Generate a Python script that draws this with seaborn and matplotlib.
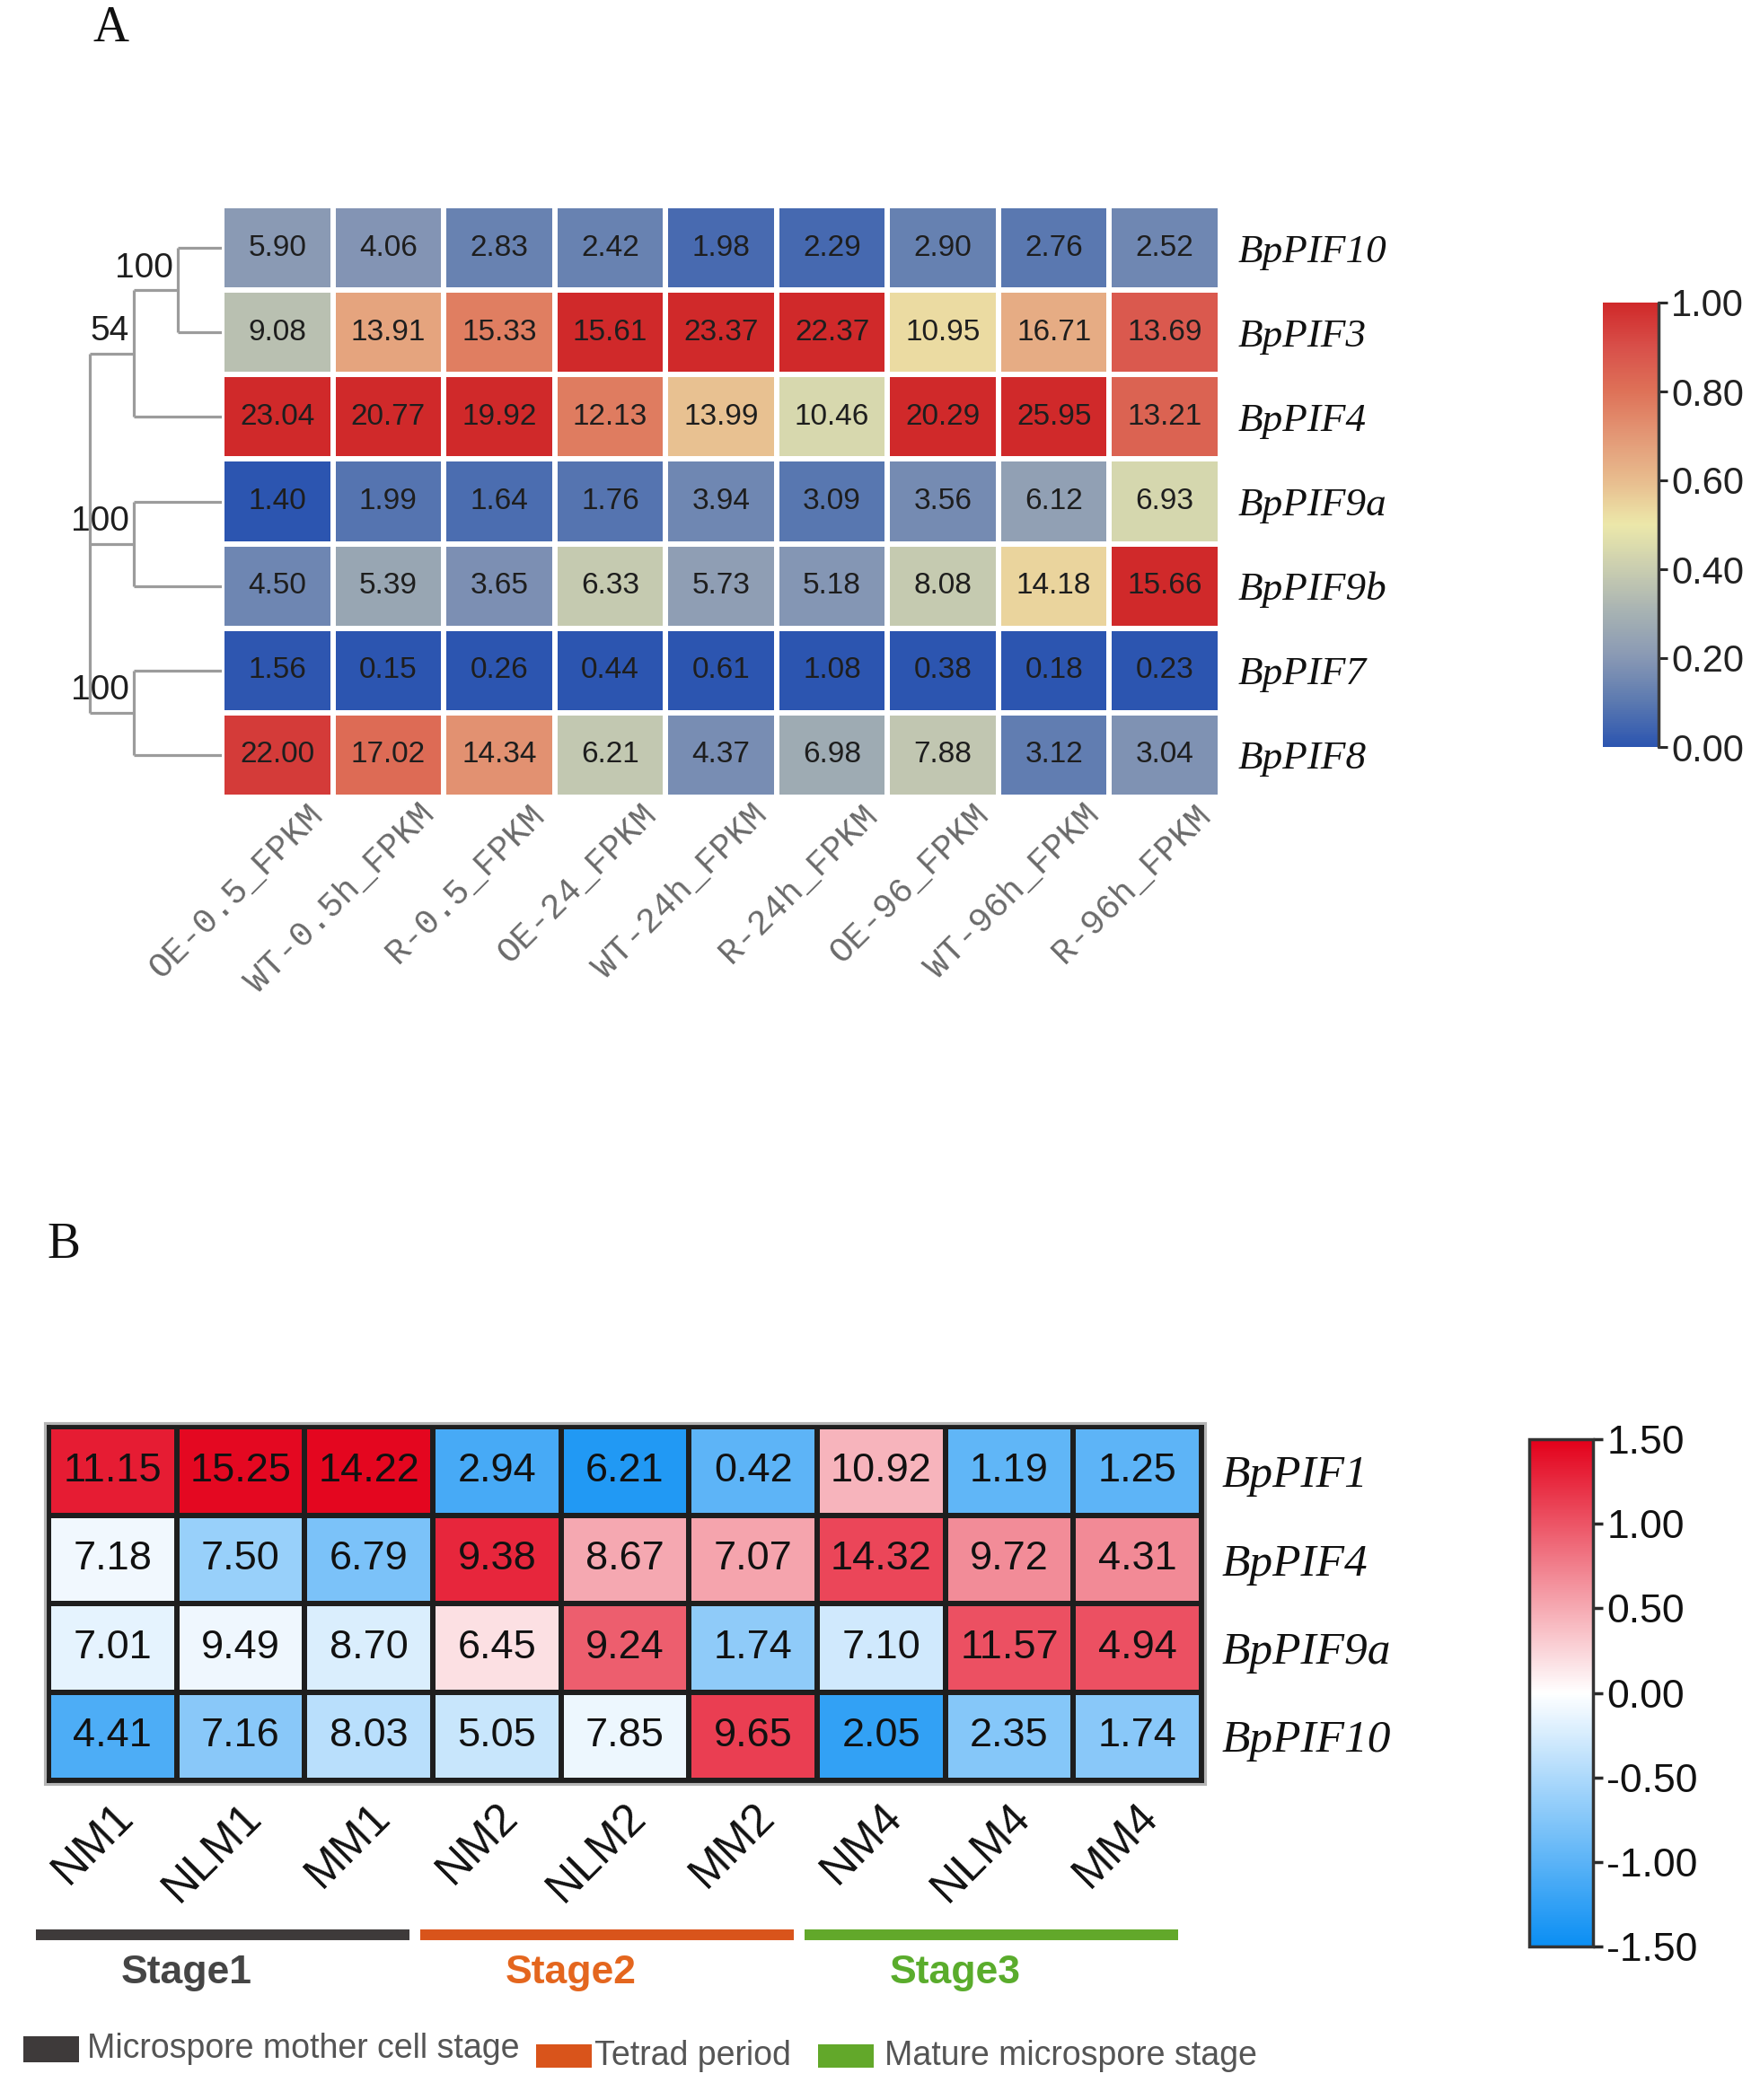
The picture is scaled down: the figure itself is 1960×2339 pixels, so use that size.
import numpy as np
import pandas as pd
import matplotlib
matplotlib.use("Agg")
import matplotlib.pyplot as plt
import matplotlib.transforms as mtransforms
from matplotlib.colors import LinearSegmentedColormap
from matplotlib.patches import Rectangle
import seaborn as sns

# ---------------- Panel A data ----------------
genes_a = ["BpPIF10", "BpPIF3", "BpPIF4", "BpPIF9a", "BpPIF9b", "BpPIF7", "BpPIF8"]
samples_a = ["OE-0.5_FPKM", "WT-0.5h_FPKM", "R-0.5_FPKM", "OE-24_FPKM", "WT-24h_FPKM",
             "R-24h_FPKM", "OE-96_FPKM", "WT-96h_FPKM", "R-96h_FPKM"]
fpkm_a_pif10 = [5.90, 4.06, 2.83, 2.42, 1.98, 2.29, 2.90, 2.76, 2.52]
fpkm_a_pif3 = [9.08, 13.91, 15.33, 15.61, 23.37, 22.37, 10.95, 16.71, 13.69]
fpkm_a_pif4 = [23.04, 20.77, 19.92, 12.13, 13.99, 10.46, 20.29, 25.95, 13.21]
fpkm_a_pif9a = [1.40, 1.99, 1.64, 1.76, 3.94, 3.09, 3.56, 6.12, 6.93]
fpkm_a_pif9b = [4.50, 5.39, 3.65, 6.33, 5.73, 5.18, 8.08, 14.18, 15.66]
fpkm_a_pif7 = [1.56, 0.15, 0.26, 0.44, 0.61, 1.08, 0.38, 0.18, 0.23]
fpkm_a_pif8 = [22.00, 17.02, 14.34, 6.21, 4.37, 6.98, 7.88, 3.12, 3.04]

# dendrogram (leaves 0..6 = rows; internal nodes numbered from 7)
tree_children = [[0, 1], [7, 2], [3, 4], [5, 6], [8, 9, 10]]
tree_levels = [1, 2, 2, 2, 3]
tree_support = ["100", "54", "100", "100", ""]

cbar_a_ticks = [0.0, 0.2, 0.4, 0.6, 0.8, 1.0]

# ---------------- Panel B data ----------------
genes_b = ["BpPIF1", "BpPIF4", "BpPIF9a", "BpPIF10"]
samples_b = ["NM1", "NLM1", "MM1", "NM2", "NLM2", "MM2", "NM4", "NLM4", "MM4"]
fpkm_b_pif1 = [11.15, 15.25, 14.22, 2.94, 6.21, 0.42, 10.92, 1.19, 1.25]
fpkm_b_pif4 = [7.18, 7.50, 6.79, 9.38, 8.67, 7.07, 14.32, 9.72, 4.31]
fpkm_b_pif9a = [7.01, 9.49, 8.70, 6.45, 9.24, 1.74, 7.10, 11.57, 4.94]
fpkm_b_pif10 = [4.41, 7.16, 8.03, 5.05, 7.85, 9.65, 2.05, 2.35, 1.74]
stage_names = ["Stage1", "Stage2", "Stage3"]
stage_sizes = [3, 3, 3]
stage_desc = ["Microspore mother cell stage", "Tetrad period", "Mature microspore stage"]
cbar_b_ticks = [-1.5, -1.0, -0.5, 0.0, 0.5, 1.0, 1.5]

# ---------------- styling ----------------
sns.set_theme(style="white")
plt.rcParams["font.family"] = ["Liberation Sans", "DejaVu Sans"]
plt.rcParams["axes.unicode_minus"] = False

W, H = 1960, 2339
fig = plt.figure(figsize=(W / 100, H / 100), dpi=100)


def fx(px):
    return px / W


def fy(py):
    return 1 - py / H


def box(x0, y0, x1, y1):
    return [fx(x0), fy(y1), fx(x1) - fx(x0), fy(y0) - fy(y1)]


cmap_a = LinearSegmentedColormap.from_list(
    "bpA",
    [(0.0, "#2c55b0"), (0.1, "#5b79b0"), (0.2, "#8898b4"), (0.3, "#a6b1b3"),
     (0.4, "#c9cdb0"), (0.5, "#ece8aa"), (0.6, "#e8bc8e"), (0.7, "#e39876"),
     (0.8, "#de7258"), (0.9, "#d8504a"), (1.0, "#d0292a")])
cmap_b = LinearSegmentedColormap.from_list("bpB", ["#0a8ef3", "#ffffff", "#e3001a"])

# ---------------- Panel A ----------------
fpkm_a = pd.DataFrame([fpkm_a_pif10, fpkm_a_pif3, fpkm_a_pif4, fpkm_a_pif9a,
                       fpkm_a_pif9b, fpkm_a_pif7, fpkm_a_pif8],
                      index=genes_a, columns=samples_a)
norm_a = (fpkm_a - fpkm_a.min()) / (fpkm_a.max() - fpkm_a.min())
annot_a = fpkm_a.map(lambda v: f"{v:.2f}")

ax_a = fig.add_axes(box(247, 229, 1359, 888))
cax_a = fig.add_axes(box(1785, 337, 1847, 832))
sns.heatmap(norm_a, ax=ax_a, cmap=cmap_a, vmin=0, vmax=1, annot=annot_a, fmt="",
            annot_kws={"fontsize": 24, "color": "#1e1e1e"},
            linewidths=3, linecolor="white", cbar_ax=cax_a,
            cbar_kws={"ticks": cbar_a_ticks})
ax_a.yaxis.tick_right()
ax_a.tick_params(axis="y", length=0, pad=14, labelright=True, labelleft=False)
ax_a.set_yticklabels(genes_a, rotation=0, fontsize=32.5, fontstyle="italic",
                     family="Liberation Serif", color="#111111", ha="left")
ax_a.tick_params(axis="x", length=0, pad=1)
ax_a.set_xticklabels(samples_a, rotation=45, ha="right", va="top", rotation_mode="anchor",
                     fontsize=28, family="Liberation Mono", color="#6a6a6a")
shift_a = mtransforms.ScaledTranslation(0.33, 0, fig.dpi_scale_trans)
for lab in ax_a.get_xticklabels():
    lab.set_transform(lab.get_transform() + shift_a)
ax_a.set_xlabel("")
ax_a.set_ylabel("")

cbar_a = ax_a.collections[0].colorbar
cbar_a.outline.set_visible(False)
cax_a.plot([1, 1], [0, 1], transform=cax_a.transAxes, color="#3a3a3a", lw=2.5,
           clip_on=False)
cax_a.set_yticks(cbar_a_ticks)
cax_a.set_yticklabels([f"{t:.2f}" for t in cbar_a_ticks])
cax_a.tick_params(axis="y", labelsize=30, length=7, width=2.2, color="#2a2a2a",
                  pad=3, labelcolor="#222222")

# dendrogram
ax_d = fig.add_axes(box(247 - 3.5 * 49, 229, 247, 888))
ax_d.set_xlim(3.5, 0)
ax_d.set_ylim(len(genes_a), 0)
ax_d.axis("off")
node_y = {i: i + 0.5 for i in range(len(genes_a))}
node_lvl = {i: 0 for i in range(len(genes_a))}
dcol = "#9c9c9c"
for k, (kids, lvl) in enumerate(zip(tree_children, tree_levels)):
    nid = len(genes_a) + k
    ys = [node_y[c] for c in kids]
    ax_d.plot([lvl, lvl], [min(ys), max(ys)], color=dcol, lw=2.3,
              solid_capstyle="butt")
    for c in kids:
        ax_d.plot([node_lvl[c], lvl], [node_y[c], node_y[c]], color=dcol, lw=2.3,
                  solid_capstyle="butt")
    node_y[nid] = (min(ys) + max(ys)) / 2
    node_lvl[nid] = lvl
# support values (drawn at the branch leading to each node)
for k, sup in enumerate(tree_support):
    if sup:
        nid = len(genes_a) + k
        ax_d.text(node_lvl[nid] + 0.1, node_y[nid] - 0.07, sup, ha="right", va="bottom",
                  fontsize=28, color="#1e1e1e")

fig.text(fx(124), fy(32), "A", family="Liberation Serif", fontsize=40,
         ha="center", va="center", color="#111111")

# ---------------- Panel B ----------------
fpkm_b = pd.DataFrame([fpkm_b_pif1, fpkm_b_pif4, fpkm_b_pif9a, fpkm_b_pif10],
                      index=genes_b, columns=samples_b)
z_b = (fpkm_b - fpkm_b.mean()) / fpkm_b.std(ddof=1)
annot_b = fpkm_b.map(lambda v: f"{v:.2f}")

ax_b = fig.add_axes(box(54, 1589, 1338, 1983))
cax_b = fig.add_axes(box(1703, 1603, 1774, 2168))
sns.heatmap(z_b, ax=ax_b, cmap=cmap_b, vmin=-1.5, vmax=1.5, annot=annot_b, fmt="",
            annot_kws={"fontsize": 32.5, "color": "#111111"},
            linewidths=3, linecolor="#1e1e1e", cbar_ax=cax_b,
            cbar_kws={"ticks": cbar_b_ticks})
for sp in ax_b.spines.values():
    sp.set_visible(True)
    sp.set_color("#1e1e1e")
    sp.set_linewidth(3.5)
ax_b.add_patch(Rectangle((0, 0), 1, 1, transform=ax_b.transAxes, fill=False,
                         ec="#b5b5b5", lw=8, clip_on=False, zorder=0.5))
ax_b.yaxis.tick_right()
ax_b.tick_params(axis="y", length=0, pad=16, labelright=True, labelleft=False)
ax_b.set_yticklabels(genes_b, rotation=0, fontsize=37, fontstyle="italic",
                     family="Liberation Serif", color="#111111", ha="left")
ax_b.tick_params(axis="x", length=0, pad=12)
ax_b.set_xticklabels(samples_b, rotation=45, ha="right", va="top", rotation_mode="anchor",
                     fontsize=36, color="#111111")
ax_b.set_xlabel("")
ax_b.set_ylabel("")

cbar_b = ax_b.collections[0].colorbar
cbar_b.outline.set_edgecolor("#333333")
cbar_b.outline.set_linewidth(2.5)
cax_b.set_yticks(cbar_b_ticks)
cax_b.set_yticklabels([f"{t:.2f}" for t in cbar_b_ticks])
cax_b.tick_params(axis="y", labelsize=32, length=8, width=2.5, color="#2a2a2a",
                  pad=3, labelcolor="#111111")

# stage bars under the columns
stage_bar_colors = ["#3e3a3a", "#d9541b", "#62a82a"]
stage_text_colors = ["#454545", "#e4661e", "#5aac2c"]
blend = mtransforms.blended_transform_factory(ax_b.transData, fig.transFigure)
start = 0
for name, size, bc, tc in zip(stage_names, stage_sizes, stage_bar_colors, stage_text_colors):
    ax_b.plot([start - 0.1, start + size - 0.18], [fy(2155), fy(2155)], transform=blend,
              color=bc, lw=8.6, solid_capstyle="butt", clip_on=False)
    ax_b.text(start + size / 2 - 0.42, fy(2197), name, transform=blend, ha="center",
              va="center", fontsize=32, fontweight="bold", color=tc, clip_on=False)
    start += size

# legend of the stages
legend_boxes = [(26, 2268, 88, 2297), (597, 2277, 659, 2303), (911, 2277, 973, 2303)]
legend_text_x = [97, 662, 985]
for (x0, y0, x1, y1), tx, desc, bc in zip(legend_boxes, legend_text_x, stage_desc,
                                         stage_bar_colors):
    fig.patches.append(Rectangle((fx(x0), fy(y1)), fx(x1) - fx(x0), fy(y0) - fy(y1),
                                 transform=fig.transFigure, facecolor=bc, edgecolor="none"))
    fig.text(fx(tx), fy((y0 + y1) / 2), desc, ha="left", va="center", fontsize=27,
             color="#555555")

fig.text(fx(71), fy(1387), "B", family="Liberation Serif", fontsize=40,
         ha="center", va="center", color="#111111")

fig.savefig("out.png", dpi=100)
